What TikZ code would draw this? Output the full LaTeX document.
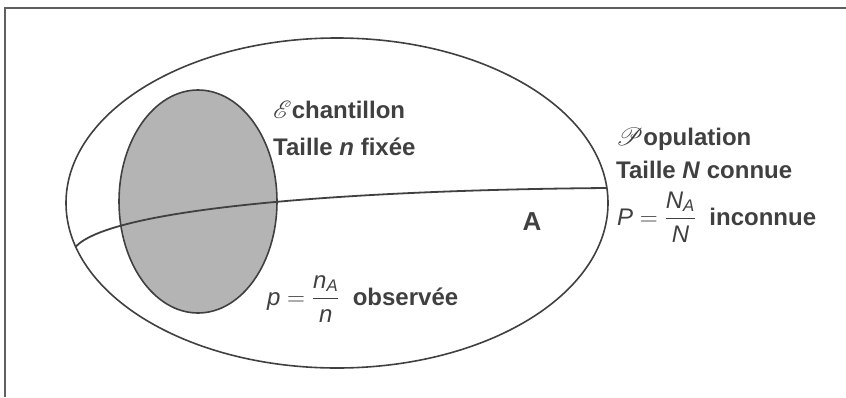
\documentclass[tikz,border=0pt]{standalone}
\usepackage{amsmath}
\usepackage{fontspec}
\setmainfont{Liberation Sans}
\usepackage{mathrsfs}
\definecolor{ink}{HTML}{404040}
\definecolor{framec}{HTML}{606060}
\definecolor{fillg}{HTML}{B4B4B4}
\tikzset{
  lbl/.style={anchor=base west, inner sep=0pt, text=ink, font=\fontsize{24}{27}\selectfont\bfseries},
  mth/.style={anchor=base west, inner sep=0pt, text=ink, font=\fontsize{24}{27}\selectfont},
  outline/.style={draw=ink, line width=1.6pt}
}
\newcommand{\si}[1]{\textit{#1}}
\newcommand{\scr}[1]{{\fontsize{35}{35}\selectfont\mdseries$\mathscr{#1}$}}
\begin{document}
\begin{tikzpicture}[x=1pt,y=-1pt]
\useasboundingbox (0,0) rectangle (846,397);
\draw[framec, line width=1.6pt] (5,397) -- (5,8) -- (846,8);
\draw[outline] (337,203) ellipse [x radius=271, y radius=165];
\draw[outline, fill=fillg] (198,201.5) ellipse [x radius=79, y radius=111.5];
\coordinate (r) at (607,188);
\coordinate (l) at (75.5,247);
\draw[draw=ink, line width=1.8pt] (r) .. controls (350,190) and (110,208) .. (l);
\node[lbl] (ech) at (273,118) {\scr{E}chantillon};
\node[lbl] (tn) at (273,155) {Taille \textit{n} fixée};
\node[lbl] (pop) at (616,145) {\scr{P}opulation};
\node[lbl] (tN) at (616,178) {Taille \textit{N} connue};
\node[mth] (PP) at (617,225) {\si{P} $= \dfrac{\si{N}_{\si{A}}}{\si{N}}$\ \ \textbf{inconnue}};
\node[lbl, anchor=base, font=\fontsize{26}{28}\selectfont\bfseries] (A) at (532,230) {A};
\node[mth] (pp) at (267,305) {\si{p} $= \dfrac{\si{n}_{\si{A}}}{\si{n}}$\ \ \textbf{observée}};
\end{tikzpicture}
\end{document}
